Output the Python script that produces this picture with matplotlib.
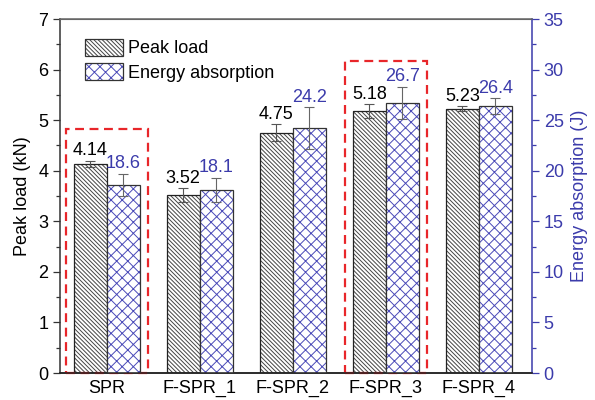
import matplotlib
matplotlib.use('Agg')
import matplotlib.pyplot as plt
import numpy as np
from matplotlib.patches import Patch, Rectangle
from matplotlib.ticker import MultipleLocator

plt.rcParams['font.family'] = ['Liberation Sans', 'DejaVu Sans']
plt.rcParams['font.size'] = 13
plt.rcParams['hatch.linewidth'] = 0.7

# data
cats = ['SPR', 'F-SPR_1', 'F-SPR_2', 'F-SPR_3', 'F-SPR_4']
peak = [4.14, 3.52, 4.75, 5.18, 5.23]
peak_err = [0.06, 0.14, 0.17, 0.13, 0.05]
energy = [18.6, 18.1, 24.2, 26.7, 26.4]
energy_err = [1.1, 1.2, 2.1, 1.6, 0.8]
boxed = ['SPR', 'F-SPR_3']
box_top = [4.82, 6.17]  # peak-load units

blue = '#3b3bab'
hatch_grey = '#444444'
w = 0.355
hatch_p = '\\' * 8
hatch_e = 'xxx'

fig = plt.figure(figsize=(5.95, 4.0), dpi=100)
ax = fig.add_axes([0.101, 0.0675, 0.793, 0.885])
ax2 = ax.twinx()

x = np.arange(len(cats))
xp = x - w / 2
xe = x + w / 2

# hatch layers, then outlines on top
ax.bar(xp, peak, w, facecolor='white', edgecolor=hatch_grey, hatch=hatch_p, linewidth=0, zorder=2)
ax.bar(xp, peak, w, facecolor='none', edgecolor='#222222', linewidth=0.9, zorder=3)
ax.errorbar(xp, peak, yerr=peak_err, fmt='none', ecolor='#555555', elinewidth=0.8, capsize=3.5, capthick=0.8, zorder=4)

ax2.bar(xe, energy, w, facecolor='white', edgecolor='#4a4ab8', hatch=hatch_e, linewidth=0, zorder=2)
ax2.bar(xe, energy, w, facecolor='none', edgecolor='#333333', linewidth=0.9, zorder=3)
ax2.errorbar(xe, energy, yerr=energy_err, fmt='none', ecolor='#666666', elinewidth=0.8, capsize=3.5, capthick=0.8, zorder=4)

for i in range(len(cats)):
    ax.annotate('%.2f' % peak[i], (xp[i], peak[i] + peak_err[i]), xytext=(0, 1), textcoords='offset points',
                ha='center', va='bottom', fontsize=13, color='black', zorder=5)
    ax2.annotate('%.1f' % energy[i], (xe[i], energy[i] + energy_err[i]), xytext=(0, 1), textcoords='offset points',
                 ha='center', va='bottom', fontsize=13, color=blue, zorder=5)

for c, top in zip(boxed, box_top):
    i = cats.index(c)
    ax.add_patch(Rectangle((i - 0.44, 0.0), 0.88, top, fill=False, edgecolor='#e8262a',
                           linestyle=(0, (4, 2.5)), linewidth=1.6, zorder=6, clip_on=False))

ax.set_xlim(-0.5, 4.57)
ax.set_ylim(0, 7)
ax2.set_ylim(0, 35)
ax.set_xticks(x)
ax.set_xticklabels(cats)
ax.tick_params(axis='x', length=0, pad=5)
ax.yaxis.set_major_locator(MultipleLocator(1))
ax.yaxis.set_minor_locator(MultipleLocator(0.5))
ax2.yaxis.set_major_locator(MultipleLocator(5))
ax2.yaxis.set_minor_locator(MultipleLocator(2.5))
ax.tick_params(axis='y', which='major', length=5, width=0.9, colors='#333333', labelcolor='black', direction='out')
ax.tick_params(axis='y', which='minor', length=3, width=0.9, colors='#333333', direction='out')
ax2.tick_params(axis='y', which='major', length=5, width=0.9, colors=blue, labelcolor=blue, direction='out')
ax2.tick_params(axis='y', which='minor', length=3, width=0.9, colors=blue, direction='out')

for s in ['left', 'bottom']:
    ax.spines[s].set_color('#333333')
    ax.spines[s].set_linewidth(1.1)
ax2.spines['left'].set_visible(False)
ax2.spines['bottom'].set_color('#222222')
ax2.spines['bottom'].set_linewidth(1.1)
ax2.spines['top'].set_color('#666666')
ax2.spines['top'].set_linewidth(1.1)
ax.spines['top'].set_color('#666666')
ax.spines['right'].set_visible(False)
ax2.spines['right'].set_color(blue)
ax2.spines['right'].set_linewidth(1.1)

ax.set_ylabel('Peak load (kN)', fontsize=13, labelpad=5)
ax2.set_ylabel('Energy absorption (J)', fontsize=13, color=blue, labelpad=5)

h1 = (Patch(facecolor='white', edgecolor=hatch_grey, hatch=hatch_p, linewidth=0),
      Patch(facecolor='none', edgecolor='#333333', linewidth=0.9))
h2 = (Patch(facecolor='white', edgecolor='#4a4ab8', hatch=hatch_e, linewidth=0),
      Patch(facecolor='none', edgecolor='#333333', linewidth=0.9))
ax2.legend([h1, h2], ['Peak load', 'Energy absorption'], loc='upper left', bbox_to_anchor=(0.03, 0.975),
           frameon=False, fontsize=13, handlelength=2.1, handleheight=1.1, handletextpad=0.3,
           labelspacing=0.3, borderaxespad=0.2)

fig.savefig('out.png', dpi=100)
